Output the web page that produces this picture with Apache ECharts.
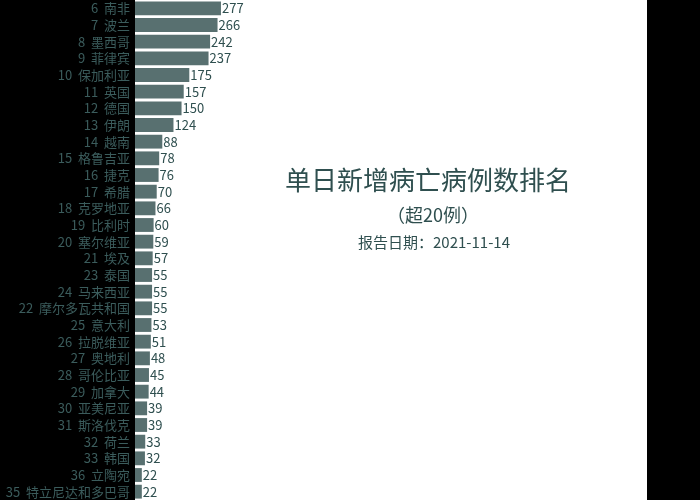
<!DOCTYPE html>
<html>
    <head>
        <title>单日新增病亡病例数排名</title>
        <meta charset="UTF-8">
        <script type="text/javascript" src="https://cdn.jsdelivr.net/npm/echarts@6/dist/echarts.min.js"></script>
        <style>
            html, body { margin: 0; padding: 0; background: #000; }
            #container { width: 700px; height: 500px; }
        </style>
    </head>
    <body>
        <div id="container"></div>
        <script type="text/javascript">
            var ranks = [6, 7, 8, 9, 10, 11, 12, 13, 14, 15, 16, 17, 18, 19, 20, 21, 23, 24, 22, 25, 26, 27, 28, 29, 30, 31, 32, 33, 36, 35];
            var countries = ['南非', '波兰', '墨西哥', '菲律宾', '保加利亚', '英国', '德国', '伊朗', '越南', '格鲁吉亚',
                '捷克', '希腊', '克罗地亚', '比利时', '塞尔维亚', '埃及', '泰国', '马来西亚', '摩尔多瓦共和国', '意大利',
                '拉脱维亚', '奥地利', '哥伦比亚', '加拿大', '亚美尼亚', '斯洛伐克', '荷兰', '韩国', '立陶宛', '特立尼达和多巴哥'];
            var deaths = [277, 266, 242, 237, 175, 157, 150, 124, 88, 78,
                76, 70, 66, 60, 59, 57, 55, 55, 55, 53,
                51, 48, 45, 44, 39, 39, 33, 32, 22, 22];

            var labels = [];
            for (var i = 0; i < countries.length; i++) {
                labels.push(ranks[i] + '  ' + countries[i]);
            }

            var font = '"Noto Sans CJK SC", "Noto Sans", sans-serif';
            var myChart = echarts.init(document.getElementById('container'));
            var option = {
                backgroundColor: 'transparent',
                animation: false,
                textStyle: { fontFamily: font },
                graphic: [
                    {
                        type: 'rect',
                        z: -10,
                        shape: { x: 135, y: 0, width: 512, height: 500 },
                        style: { fill: '#fff' }
                    },
                    {
                        type: 'text',
                        x: 428, y: 180,
                        style: {
                            text: '单日新增病亡病例数排名',
                            fill: '#2f4f4f',
                            font: '26px ' + font,
                            textAlign: 'center',
                            textVerticalAlign: 'middle'
                        }
                    },
                    {
                        type: 'text',
                        x: 433, y: 215,
                        style: {
                            text: '（超20例）',
                            fill: '#2f4f4f',
                            font: '18px ' + font,
                            textAlign: 'center',
                            textVerticalAlign: 'middle'
                        }
                    },
                    {
                        type: 'text',
                        x: 434, y: 242,
                        style: {
                            text: '报告日期：2021-11-14',
                            fill: '#2f4f4f',
                            font: '15px ' + font,
                            textAlign: 'center',
                            textVerticalAlign: 'middle'
                        }
                    }
                ],
                grid: {
                    left: 135,
                    right: 53,
                    top: 0,
                    height: 504,
                    containLabel: false
                },
                xAxis: {
                    type: 'value',
                    min: 0,
                    max: 1650,
                    show: false
                },
                yAxis: {
                    type: 'category',
                    inverse: true,
                    data: labels,
                    axisLine: { show: false },
                    axisTick: { show: false },
                    axisLabel: {
                        interval: 0,
                        color: '#3b5c5c',
                        fontSize: 13,
                        margin: 5
                    }
                },
                series: [{
                    type: 'bar',
                    data: deaths,
                    barCategoryGap: '17%',
                    itemStyle: { color: '#587070' },
                    label: {
                        show: true,
                        position: 'right',
                        distance: 1,
                        color: '#2f4f4f',
                        fontSize: 13
                    }
                }]
            };
            myChart.setOption(option);
        </script>
    </body>
</html>
